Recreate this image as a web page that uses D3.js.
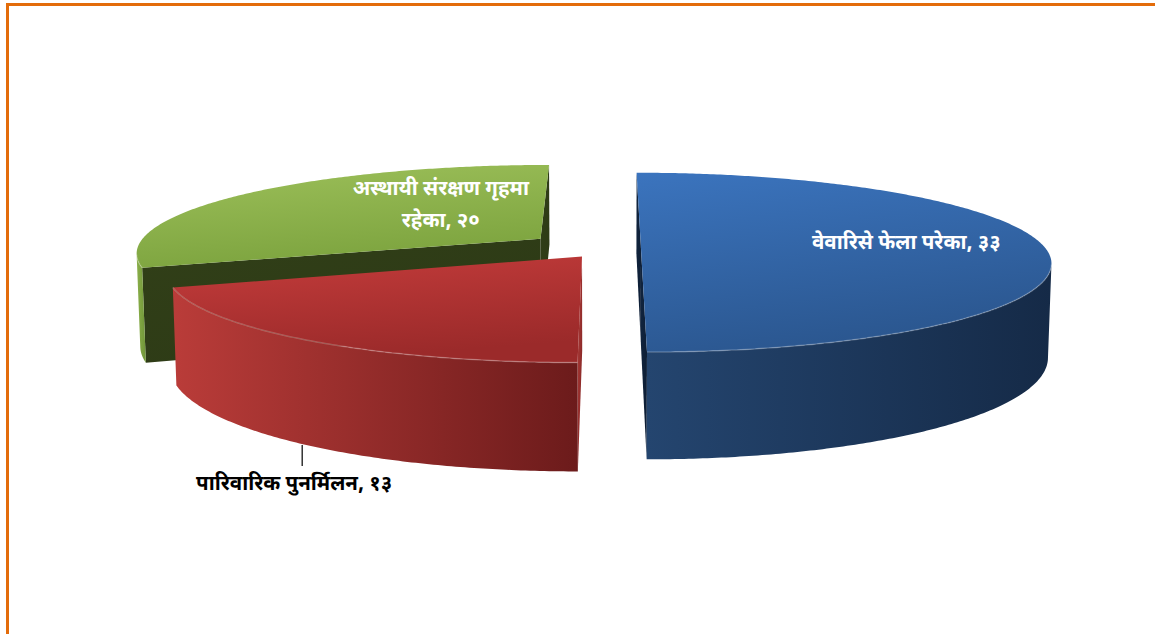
<!DOCTYPE html>
<html>
<head>
<meta charset="utf-8">
<script src="https://cdn.jsdelivr.net/npm/d3@7"></script>
<style>
  html, body { margin: 0; padding: 0; background: #fff; }
  svg text { font-family: "Noto Sans Devanagari", "Lohit Devanagari", "Mangal", "Noto Sans", sans-serif; font-weight: bold; }
</style>
</head>
<body>
<div id="wrapper"></div>
<script>
// data
const categories = ["वेवारिसे फेला परेका", "पारिवारिक पुनर्मिलन", "अस्थायी संरक्षण गृहमा रहेका"]
const values = [33, 13, 20]
const valueLabels = ["३३", "१३", "२०"]

const width = 1155
const height = 634

// 3d view (pie radius = 1)
const view = {
  ox: 607, oy: 249,
  F: 2649, D: 6.54,
  tilt: 12.5 * Math.PI / 180,
  depth: 0.235,
}
const explode = [0.084, 0.105, 0.205]

const palette = [
  { top: ["#3b74be", "#2b5790"], wall: ["#24456f", "#152a47"], cut: ["#112540", "#0d1d33"] },
  { top: ["#c43c3b", "#9b2a2a"], wall: ["#ba3c39", "#6c1b1b"], cut: ["#b5403c", "#7a2020"] },
  { top: ["#9dc05a", "#7da43f"], wall: ["#8bb04a", "#6f9438"], cut: ["#313f18", "#2c3915"] },
]

const cosT = Math.cos(view.tilt), sinT = Math.sin(view.tilt)
const cam = [0, view.D * cosT, view.D * sinT]

const project = ([X, Y, Z]) => {
  const d = view.D - (Y * cosT + Z * sinT)
  const u = Z * cosT - Y * sinT
  return [view.ox + view.F * X / d, view.oy - view.F * u / d]
}

const svg = d3.select("#wrapper")
  .append("svg")
  .attr("width", width)
  .attr("height", height)

// orange frame
svg.append("rect")
  .attr("x", 7.5).attr("y", 4.5)
  .attr("width", width + 20).attr("height", height + 20)
  .attr("fill", "none")
  .attr("stroke", "#e36c0a")
  .attr("stroke-width", 3)

const defs = svg.append("defs")
const grad = (id, c0, c1, x1, y1, x2, y2) => {
  const g = defs.append("linearGradient").attr("id", id)
    .attr("x1", x1).attr("y1", y1).attr("x2", x2).attr("y2", y2)
  g.append("stop").attr("offset", "0%").attr("stop-color", c0)
  g.append("stop").attr("offset", "100%").attr("stop-color", c1)
}
palette.forEach((p, i) => {
  grad(`top${i}`, p.top[0], p.top[1], "0", "0", "0.3", "1")
  grad(`wall${i}`, p.wall[0], p.wall[1], "0", "0", "1", "0")
  grad(`cut${i}`, p.cut[0], p.cut[1], "0", "0", "1", "1")
})

const pie = d3.pie().sort(null).value(d => d)
const arcs = pie(values)

const toPath = pts => "M" + pts.map(p => p.map(v => v.toFixed(2)).join(",")).join("L") + "Z"
const toLine = pts => "M" + pts.map(p => p.map(v => v.toFixed(2)).join(",")).join("L")

const slices = arcs.map((a, i) => {
  const mid = (a.startAngle + a.endAngle) / 2
  const apex = [explode[i] * Math.sin(mid), -explode[i] * Math.cos(mid)]
  const rim = (t, z) => [apex[0] + Math.sin(t), apex[1] - Math.cos(t), z]
  const steps = Math.ceil((a.endAngle - a.startAngle) / 0.01)
  const angles = d3.range(steps + 1).map(k => a.startAngle + (a.endAngle - a.startAngle) * k / steps)
  return { a, i, mid, apex, rim, angles }
})

const faceVisible = (n, p) =>
  n[0] * (cam[0] - p[0]) + n[1] * (cam[1] - p[1]) > 0

const drawSlice = s => {
  const g = svg.append("g").attr("class", "slice")
  const h = -view.depth
  const { a, apex, rim, angles, i } = s

  // radial cut faces
  const cuts = [
    { t: a.startAngle, n: [-Math.cos(a.startAngle), -Math.sin(a.startAngle)] },
    { t: a.endAngle, n: [Math.cos(a.endAngle), Math.sin(a.endAngle)] },
  ]
  cuts.forEach(c => {
    if (!faceVisible(c.n, apex)) return
    const pts = [[apex[0], apex[1], 0], rim(c.t, 0), rim(c.t, h), [apex[0], apex[1], h]].map(project)
    g.append("path").attr("d", toPath(pts)).attr("fill", `url(#cut${i})`)
  })

  // outer wall, front facing part only
  const vis = angles.filter(t => {
    const p = rim(t, 0)
    return faceVisible([Math.sin(t), -Math.cos(t)], p)
  })
  if (vis.length > 1) {
    const pts = vis.map(t => project(rim(t, 0)))
      .concat(vis.slice().reverse().map(t => project(rim(t, h))))
    g.append("path").attr("d", toPath(pts)).attr("fill", `url(#wall${i})`)
  }

  // top face
  const topPts = [project([apex[0], apex[1], 0])].concat(angles.map(t => project(rim(t, 0))))
  g.append("path").attr("d", toPath(topPts)).attr("fill", `url(#top${i})`)

  // soft bevel highlight along the rim
  if (vis.length > 1) {
    g.append("path")
      .attr("d", toLine(vis.map(t => project(rim(t, 0)))))
      .attr("fill", "none")
      .attr("stroke", "rgba(255,255,255,0.22)")
      .attr("stroke-width", 1.5)
  }
}

// far to near
;[2, 0, 1].forEach(k => drawSlice(slices[k]))

// labels
const labelAt = (s, t, r) => project([s.apex[0] + r * Math.sin(t), s.apex[1] - r * Math.cos(t), 0])

// blue, inside
{
  const s = slices[0]
  const [x, y] = labelAt(s, Math.PI / 2, 0.655)
  svg.append("text")
    .attr("x", x).attr("y", y)
    .attr("text-anchor", "middle")
    .attr("font-size", 20.5)
    .attr("fill", "#fff")
    .text(`${categories[0]}, ${valueLabels[0]}`)
}

// green, inside on two lines
{
  const s = slices[2]
  const [x, y] = labelAt(s, 327.5 * Math.PI / 180, 0.516)
  const words = categories[2].split(" ")
  const t = svg.append("text")
    .attr("text-anchor", "middle")
    .attr("font-size", 20.5)
    .attr("fill", "#fff")
  t.append("tspan").attr("x", x).attr("y", y - 9).text(words.slice(0, 3).join(" "))
  t.append("tspan").attr("x", x).attr("y", y + 23).text(`${words[3]}, ${valueLabels[2]}`)
}

// red, outside with leader line
{
  const s = slices[1]
  const p = project(s.rim(s.mid + 0.022, -view.depth))
  svg.append("line")
    .attr("x1", p[0]).attr("y1", p[1] + 1)
    .attr("x2", p[0]).attr("y2", p[1] + 22)
    .attr("stroke", "#000").attr("stroke-width", 1.2)
  svg.append("text")
    .attr("x", p[0] - 8).attr("y", p[1] + 46)
    .attr("text-anchor", "middle")
    .attr("font-size", 20.5)
    .attr("fill", "#000")
    .text(`${categories[1]}, ${valueLabels[1]}`)
}
</script>
</body>
</html>
